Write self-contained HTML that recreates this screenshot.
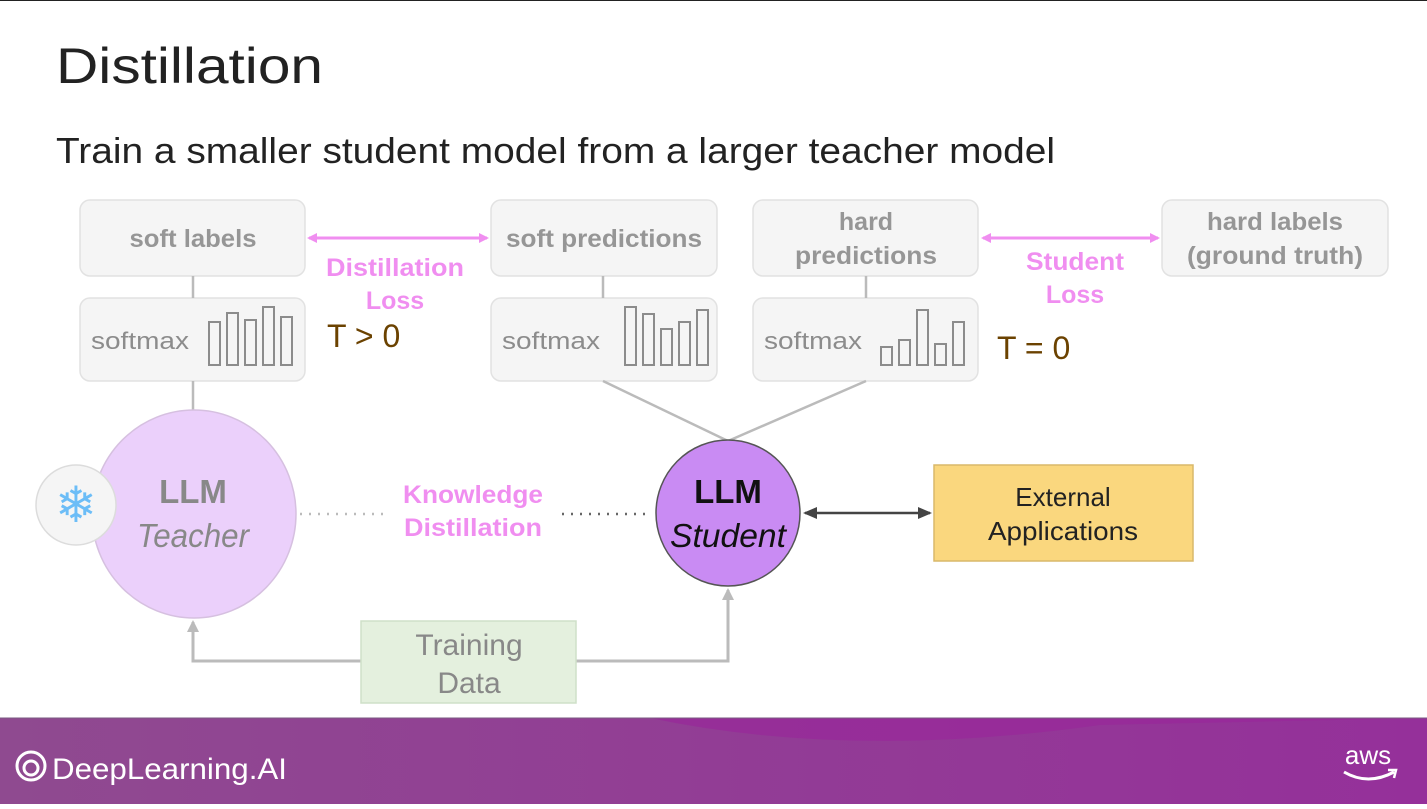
<!DOCTYPE html>
<html><head><meta charset="utf-8"><style>
body{margin:0;width:1427px;height:804px;overflow:hidden;background:#fff;font-family:"Liberation Sans",sans-serif;}
</style></head><body>
<svg width="1427" height="804" viewBox="0 0 1427 804" xmlns="http://www.w3.org/2000/svg" font-family="Liberation Sans, sans-serif">
<defs>
<marker id="pk" markerWidth="10" markerHeight="10" refX="8" refY="5" orient="auto-start-reverse" markerUnits="userSpaceOnUse"><path d="M0,0 L10,5 L0,10 z" fill="#f08ef0"/></marker>
<marker id="gr" markerWidth="12" markerHeight="12" refX="10" refY="6" orient="auto" markerUnits="userSpaceOnUse"><path d="M0,0 L12,6 L0,12 z" fill="#bbb"/></marker>
<marker id="dk" markerWidth="14" markerHeight="12" refX="12" refY="6" orient="auto-start-reverse" markerUnits="userSpaceOnUse"><path d="M0,0 L14,6 L0,12 z" fill="#444"/></marker>
<linearGradient id="ft" x1="0" x2="1"><stop offset="0" stop-color="#8f4a90"/><stop offset="1" stop-color="#95309a"/></linearGradient>
</defs>
<line x1="0" y1="0.5" x2="1427" y2="0.5" stroke="#222"/>
<text x="56" y="83" font-size="50" fill="#222" textLength="267" lengthAdjust="spacingAndGlyphs">Distillation</text>
<text x="56" y="163" font-size="36" fill="#222" textLength="999" lengthAdjust="spacingAndGlyphs">Train a smaller student model from a larger teacher model</text>

<g fill="#f5f5f5" stroke="#e2e2e2" stroke-width="1.5">
<rect x="80" y="200" width="225" height="76" rx="10"/>
<rect x="80" y="298" width="225" height="83" rx="10"/>
<rect x="491" y="200" width="226" height="76" rx="10"/>
<rect x="491" y="298" width="226" height="83" rx="10"/>
<rect x="753" y="200" width="225" height="76" rx="10"/>
<rect x="753" y="298" width="225" height="83" rx="10"/>
<rect x="1162" y="200" width="226" height="76" rx="10"/>
</g>
<g stroke="#bbb" stroke-width="2.5">
<line x1="193" y1="276" x2="193" y2="298"/><line x1="193" y1="381" x2="193" y2="410"/>
<line x1="603" y1="276" x2="603" y2="298"/><line x1="866" y1="276" x2="866" y2="298"/>
<line x1="603" y1="381" x2="728" y2="441"/><line x1="866" y1="381" x2="728" y2="441"/>
</g>
<g font-size="25" fill="#8c8c8c" text-anchor="middle" font-weight="bold" opacity="0.9">
<text x="193" y="247" textLength="127" lengthAdjust="spacingAndGlyphs">soft labels</text>
<text x="604" y="247" textLength="196" lengthAdjust="spacingAndGlyphs">soft predictions</text>
<text x="866" y="230">hard</text><text x="866" y="264" textLength="142" lengthAdjust="spacingAndGlyphs">predictions</text>
<text x="1275" y="230" textLength="136" lengthAdjust="spacingAndGlyphs">hard labels</text><text x="1275" y="264" textLength="176" lengthAdjust="spacingAndGlyphs">(ground truth)</text>
</g>
<g font-size="24" fill="#8c8c8c">
<text x="91" y="349" textLength="98" lengthAdjust="spacingAndGlyphs">softmax</text><text x="502" y="349" textLength="98" lengthAdjust="spacingAndGlyphs">softmax</text><text x="764" y="349" textLength="98" lengthAdjust="spacingAndGlyphs">softmax</text>
</g>
<g fill="none" stroke="#8c8c8c" stroke-width="2">
<rect x="209" y="322" width="11" height="43"/><rect x="227" y="313" width="11" height="52"/><rect x="245" y="320" width="11" height="45"/><rect x="263" y="307" width="11" height="58"/><rect x="281" y="317" width="11" height="48"/>
<rect x="625" y="307" width="11" height="58"/><rect x="643" y="314" width="11" height="51"/><rect x="661" y="329" width="11" height="36"/><rect x="679" y="322" width="11" height="43"/><rect x="697" y="310" width="11" height="55"/>
<rect x="881" y="347" width="11" height="18"/><rect x="899" y="340" width="11" height="25"/><rect x="917" y="310" width="11" height="55"/><rect x="935" y="344" width="11" height="21"/><rect x="953" y="322" width="11" height="43"/>
</g>
<line x1="309" y1="238" x2="487" y2="238" stroke="#f08ef0" stroke-width="3" marker-start="url(#pk)" marker-end="url(#pk)"/>
<line x1="983" y1="238" x2="1158" y2="238" stroke="#f08ef0" stroke-width="3" marker-start="url(#pk)" marker-end="url(#pk)"/>
<g font-size="25" fill="#f08ef0" text-anchor="middle" font-weight="bold">
<text x="395" y="276" textLength="138" lengthAdjust="spacingAndGlyphs">Distillation</text><text x="395" y="309">Loss</text>
<text x="1075" y="270" textLength="98" lengthAdjust="spacingAndGlyphs">Student</text><text x="1075" y="303">Loss</text>
<text x="473" y="503" textLength="140" lengthAdjust="spacingAndGlyphs">Knowledge</text><text x="473" y="536" textLength="138" lengthAdjust="spacingAndGlyphs">Distillation</text>
</g>
<g font-size="32" fill="#6b4200">
<text x="327" y="347">T &gt; 0</text><text x="997" y="359">T = 0</text>
</g>

<ellipse cx="194" cy="514" rx="102" ry="104" fill="#ebd0fb" stroke="#d6c0e0" stroke-width="1.5"/>
<circle cx="76" cy="505" r="40" fill="#f5f5f5" stroke="#dcdcdc" stroke-width="1.5"/>
<text x="76" y="522" font-size="50" fill="#6cbdf7" text-anchor="middle">❄</text>
<text x="193" y="503" font-size="33" font-weight="bold" fill="#888" text-anchor="middle">LLM</text>
<text x="193" y="547" font-size="33" font-style="italic" fill="#888" text-anchor="middle" textLength="112" lengthAdjust="spacingAndGlyphs">Teacher</text>

<line x1="300" y1="514" x2="385" y2="514" stroke="#bbb" stroke-width="2.5" stroke-dasharray="2,7"/>
<line x1="562" y1="514" x2="652" y2="514" stroke="#666" stroke-width="2.5" stroke-dasharray="2,7"/>

<ellipse cx="728" cy="513" rx="72" ry="73" fill="#c98bf3" stroke="#555" stroke-width="1.5"/>
<text x="728" y="503" font-size="33" font-weight="bold" fill="#111" text-anchor="middle">LLM</text>
<text x="728" y="547" font-size="33" font-style="italic" fill="#111" text-anchor="middle" textLength="116" lengthAdjust="spacingAndGlyphs">Student</text>

<line x1="805" y1="513" x2="930" y2="513" stroke="#444" stroke-width="2.5" marker-start="url(#dk)" marker-end="url(#dk)"/>
<rect x="934" y="465" width="259" height="96" fill="#fad77e" stroke="#d9b86a" stroke-width="1.5"/>
<text x="1063" y="506" font-size="26" fill="#222" text-anchor="middle">External</text>
<text x="1063" y="540" font-size="26" fill="#222" text-anchor="middle" textLength="150" lengthAdjust="spacingAndGlyphs">Applications</text>

<polyline points="361,661 193,661 193,622" fill="none" stroke="#bbb" stroke-width="3" marker-end="url(#gr)"/>
<polyline points="576,661 728,661 728,590" fill="none" stroke="#bbb" stroke-width="3" marker-end="url(#gr)"/>
<rect x="361" y="621" width="215" height="82" fill="#e4f0de" stroke="#cfe0c8" stroke-width="1.5"/>
<text x="469" y="655" font-size="30" fill="#888" text-anchor="middle">Training</text>
<text x="469" y="693" font-size="30" fill="#888" text-anchor="middle">Data</text>

<rect x="0" y="718" width="1427" height="86" fill="url(#ft)"/>
<path d="M650,718 Q850,760 1100,725 L1427,718 Z" fill="#98289a" opacity="0.7"/>
<line x1="0" y1="718" x2="1427" y2="718" stroke="#7a5a80" stroke-width="1"/>
<circle cx="31" cy="766" r="14" fill="none" stroke="#fff" stroke-width="3"/>
<circle cx="31" cy="768" r="7" fill="none" stroke="#fff" stroke-width="3"/>
<text x="52" y="779" font-size="30" fill="#fff" textLength="235" lengthAdjust="spacingAndGlyphs">DeepLearning.AI</text>
<text x="1368" y="764" font-size="26" fill="#fff" text-anchor="middle">aws</text>
<path d="M1344,772 Q1368,786 1394,772" fill="none" stroke="#fff" stroke-width="3"/>
<path d="M1388,770 L1396,770 L1394,778" fill="none" stroke="#fff" stroke-width="2.5"/>
</svg>
</body></html>
